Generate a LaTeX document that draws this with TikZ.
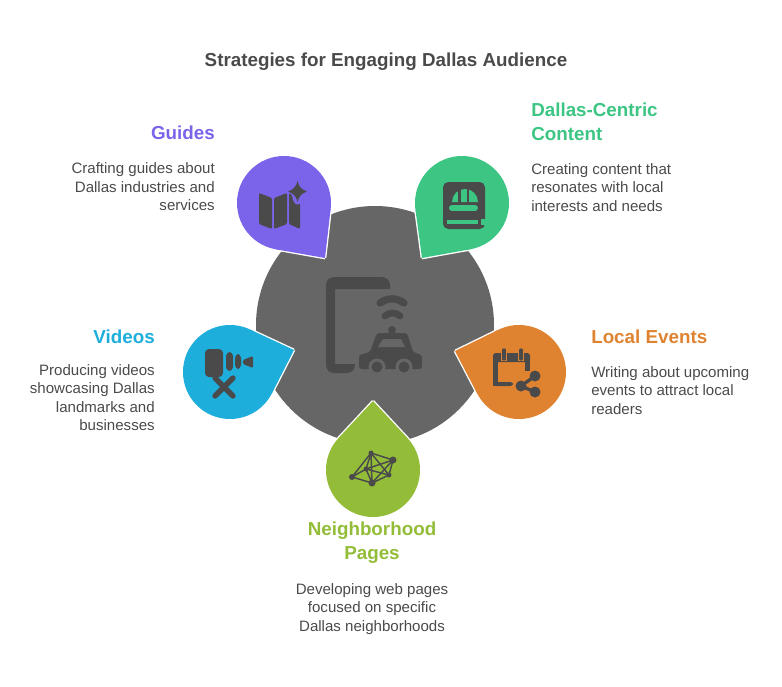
\documentclass[tikz,border=0pt]{standalone}
\usepackage{fontspec}
\setmainfont{Liberation Sans}
\usepackage{xcolor}
\usetikzlibrary{positioning, calc}
\definecolor{hubgray}{HTML}{666666}
\definecolor{icongray}{HTML}{4A4A4A}
\definecolor{bodytext}{HTML}{4A4A4A}
\definecolor{guidescol}{HTML}{7C64EA}
\definecolor{contentcol}{HTML}{3CC583}
\definecolor{videoscol}{HTML}{1EAEDB}
\definecolor{eventscol}{HTML}{E08330}
\definecolor{pagescol}{HTML}{93BD39}
\tikzset{hub/.style={circle,fill=hubgray,minimum size=238*0.75pt,inner sep=0pt,outer sep=0pt},
         petalbase/.style={circle,minimum size=94*0.75pt,inner sep=0pt,outer sep=0pt},
         heading/.style={font=\fontsize{14.1}{18}\selectfont\bfseries,inner sep=0pt},
         desc/.style={font=\fontsize{11.3}{13.9}\selectfont,text=bodytext,inner sep=0pt},
         icon/.style={fill=icongray,draw=none},
         iconline/.style={draw=icongray,line cap=round,line join=round}}
% teardrop: name, centre x y, tip x y, colour
\newcommand{\petal}[6]{
  \pgfmathsetmacro{\pa}{atan2(#5-#3,#4-#2)}
  \pgfmathsetmacro{\pb}{acos(47/veclen(#4-#2,#5-#3))}
  \coordinate (#1tip) at (#4,#5);
  \coordinate (#1a) at ({#2+47*cos(\pa+\pb)},{#3+47*sin(\pa+\pb)});
  \coordinate (#1b) at ({#2+47*cos(\pa-\pb)},{#3+47*sin(\pa-\pb)});
  \node[petalbase,draw=white,line width=2pt] (#1base) at (#2,#3) {};
  \draw[white,line width=2pt,line join=miter] (#1tip) -- (#1a) (#1tip) -- (#1b);
  \fill[#6] (#1tip) -- (#1a) -- (#1b) -- cycle;
  \node[petalbase,fill=#6] (#1) at (#2,#3) {};
}
\begin{document}
\begin{tikzpicture}[x=0.75pt,y=-0.75pt]
    \useasboundingbox (0,0) rectangle (782,686);
    % Title
    \node[heading,text=bodytext] (title) at (386,62) {Strategies for Engaging Dallas Audience};
    % Hub
    \node[hub] (center) at (375,325) {};
    % Petals
    \petal{guides}{284}{203}{325}{258}{guidescol}
    \petal{content}{462}{203}{422}{258}{contentcol}
    \petal{videos}{230}{372}{294}{350}{videoscol}
    \petal{events}{519}{372}{455}{351}{eventscol}
    \petal{pages}{373}{470}{373}{401}{pagescol}
    % Hub icon
    \fill[icon] (390,289) {[rounded corners=6pt] -- (390,277) -- (326,277) -- (326,373) -- (355,373)} -- (355,364) -- (335,364) -- (335,289) -- cycle;
    \draw[iconline,line width=5.5pt] (380,303) .. controls (388,297.5) and (396,297.5) .. (404,303);
    \draw[iconline,line width=5pt] (385,316) .. controls (389,312) and (396,312) .. (400,316);
    \fill[icon] (392,330) circle [radius=4];
    \fill[icon,rounded corners=2pt] (377,333) -- (407,333) -- (413,352) -- (422,355) -- (422,369) -- (359,369) -- (359,355) -- (370,352) -- cycle;
    \fill[hubgray] (383,339) -- (401,339) -- (405,347) -- (378,347) -- cycle;
    \foreach \wx in {377,404} {
      \fill[hubgray] (\wx,367) circle [radius=8.5];
      \fill[icon] (\wx,367) circle [radius=5.5];
    }
    % Map icon
    \fill[icon,rounded corners=1pt] (259,193) -- (272,198) -- (272,229) -- (259,224) -- cycle;
    \fill[icon,rounded corners=1pt] (274,198) -- (287,193) -- (287,224) -- (274,229) -- cycle;
    \fill[icon,rounded corners=1pt] (289,193) -- (292,195) .. controls (293,204) and (297,206) .. (300,203) -- (300,229) -- (289,224) -- cycle;
    \fill[icon] (297.5,181) .. controls (299,187) and (301,189) .. (307,191.5) .. controls (301,194) and (299,196) .. (297.5,202) .. controls (296,196) and (294,194) .. (288,191.5) .. controls (294,189) and (296,187) .. (297.5,181) -- cycle;
    % Book icon
    \fill[icon,rounded corners=4pt] (443,182) rectangle (485,229);
    \fill[contentcol] (452,202) arc [start angle=180,end angle=360,radius=13];
    \draw[icongray,line width=1.8pt] (459.5,187) -- (459.5,203) (468,187) -- (468,203);
    \draw[contentcol,line width=4.5pt,line cap=round] (452,208) -- (475,208);
    \draw[contentcol,line width=3pt] (447,222) -- (478,222);
    \fill[contentcol] (481,219) rectangle (486,225);
    % Camera icon
    \fill[icon,rounded corners=3pt] (205,349) rectangle (223,377);
    \fill[icon,rounded corners=3pt] (226,352) rectangle (233,371);
    \fill[icon,rounded corners=3pt] (235,354) rectangle (241,369);
    \fill[icon,rounded corners=1pt] (243,360) -- (253,356) -- (253,368) -- (243,364) -- cycle;
    \draw[iconline,line width=4pt] (215,378) -- (233,396) (233,378) -- (215,396);
    % Calendar icon
    \fill[icon,rounded corners=2pt] (493,353) rectangle (530,362);
    \fill[icon] (493,358) rectangle (498,386);
    \fill[icon] (525,358) rectangle (530,371);
    \fill[icon,rounded corners=2pt] (493,382) rectangle (513,386);
    \draw[eventscol,line width=5pt] (504,348) -- (504,361) (521,348) -- (521,361);
    \draw[iconline,line width=2.5pt] (504,350) -- (504,359) (521,350) -- (521,359);
    \draw[iconline,line width=2.5pt] (535,376) -- (521,386) -- (535,392);
    \fill[icon] (535,376) circle [radius=5.5];
    \fill[icon] (521,386) circle [radius=5.5];
    \fill[icon] (535,392) circle [radius=5.5];
    % Network icon
    \foreach \n/\p/\r in {a/{371,453}/2.5,b/{393,460}/3.5,c/{389,475}/2.5,d/{372,483}/3.5,e/{352,477}/3,f/{366,469}/2.5} {
      \fill[icon] (\p) circle [radius=\r];
      \coordinate (\n) at (\p);
    }
    \foreach \s/\t in {a/b,a/c,a/d,a/e,a/f,b/c,b/d,b/f,c/d,c/f,d/e,d/f,e/f} {
      \draw[iconline,line width=1.1pt] (\s) -- (\t);
    }
    % Labels
    \node[heading,text=guidescol,anchor=north east] (guideshead) at (215,126) {Guides};
    \node[desc,align=right,below=16.5pt of guideshead.south east,anchor=north east] (guidesdesc) {Crafting guides about\\Dallas industries and\\services};
    \node[heading,text=contentcol,align=left,anchor=north west] (contenthead) at (531,103) {Dallas-Centric\\Content};
    \node[desc,align=left,anchor=north west] (contentdesc) at (531,163) {Creating content that\\resonates with local\\interests and needs};
    \node[heading,text=videoscol,anchor=north east] (videoshead) at (155,330) {Videos};
    \node[desc,align=right,anchor=north east] (videosdesc) at (155,364) {Producing videos\\showcasing Dallas\\landmarks and\\businesses};
    \node[heading,text=eventscol,anchor=north west] (eventshead) at (591,330) {Local Events};
    \node[desc,align=left,anchor=north west] (eventsdesc) at (591,366) {Writing about upcoming\\events to attract local\\readers};
    \node[heading,text=pagescol,align=center,anchor=north] (pageshead) at (372,522) {Neighborhood\\Pages};
    \node[desc,align=center,anchor=north] (pagesdesc) at (372,583) {Developing web pages\\focused on specific\\Dallas neighborhoods};
  \end{tikzpicture}
\end{document}
